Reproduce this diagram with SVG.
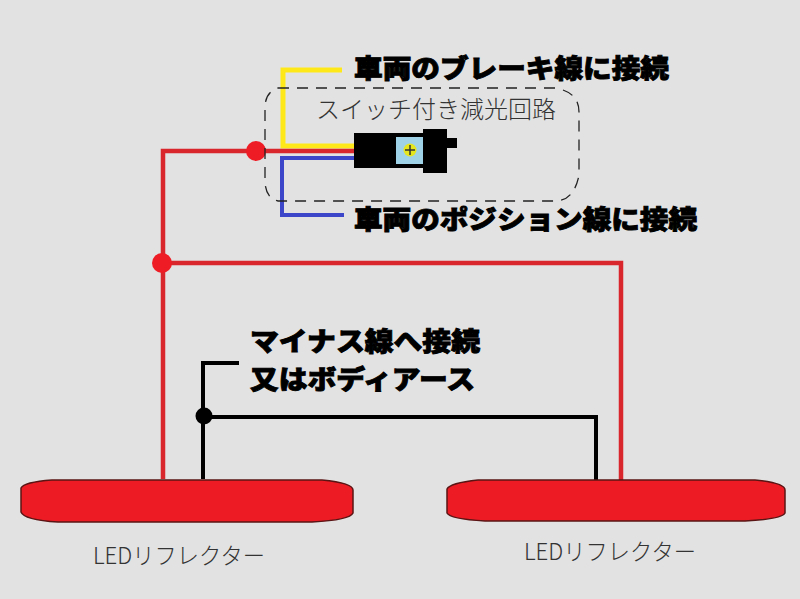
<svg xmlns="http://www.w3.org/2000/svg" width="800" height="599" viewBox="0 0 800 599">
<style>
.wire{fill:none;stroke-linejoin:miter}
.bold{font-family:"Noto Sans CJK JP",sans-serif;font-weight:900;font-size:26px;fill:#000;stroke:#000;stroke-width:.9}
.thin{font-family:"Noto Sans CJK JP",sans-serif;font-weight:300;fill:#333}
.refl{fill:#ed1c24;stroke:#5a1414;stroke-width:1.500}
</style>
<rect width="800" height="599" fill="#e2e2e2"/>
<g id="connectors">
<path class="wire" d="M342 70H283V146H356" stroke="#ffe81a" stroke-width="5"/>
<path class="wire" d="M344 215H282V158H356" stroke="#3c46c8" stroke-width="4"/>
<path class="wire" d="M356 151H163V479" stroke="#d9262c" stroke-width="4.500"/>
<path class="wire" d="M163 263H621V481" stroke="#d9262c" stroke-width="4.500"/>
<path class="wire" d="M239 363H203V479" stroke="#000" stroke-width="4"/>
<path class="wire" d="M204 417H596V480" stroke="#000" stroke-width="4"/>
<circle cx="256" cy="151" r="10" fill="#ee1c25"/>
<circle cx="162" cy="263" r="10" fill="#ee1c25"/>
<circle cx="204" cy="416" r="8.500" fill="#000"/>
</g>
<g id="switch-box">
<path d="M278 88H555Q579 92 579 112V175Q574 201 555 201H278Q265 198 265 180V108Q265 92 278 88Z" fill="none" stroke="#222" stroke-width="1.300" stroke-dasharray="11 8"/>
<text class="thin" x="436" y="118" font-size="24" text-anchor="middle" textLength="240" lengthAdjust="spacingAndGlyphs">スイッチ付き減光回路</text>
</g>
<g id="switch">
<path d="M354 133H423V129H447V138H457V148H447V173H423V168H354Z" fill="#000"/>
<rect x="396" y="137" width="27" height="27" fill="#9fd2e6"/>
<circle cx="410" cy="150" r="6.500" fill="#e6e61e"/>
<path d="M405 150H415M410 145V155" stroke="#333" stroke-width="1.500"/>
</g>
<g id="label-brake"><text class="bold" x="354" y="78" textLength="315" lengthAdjust="spacingAndGlyphs">車両のブレーキ線に接続</text></g>
<g id="label-position"><text class="bold" x="354" y="229" textLength="343" lengthAdjust="spacingAndGlyphs">車両のポジション線に接続</text></g>
<g id="label-ground">
<text class="bold" x="250" y="351" textLength="230" lengthAdjust="spacingAndGlyphs">マイナス線へ接続</text>
<text class="bold" x="250" y="389" textLength="225" lengthAdjust="spacingAndGlyphs">又はボディアース</text>
</g>
<g id="reflector-left">
<path class="refl" d="M52 480H322Q353 483 353 490V513Q350 520 312 522H58Q24 520 21 512V488Q24 482 52 480Z"/>
<text class="thin" x="93" y="564" font-size="23" textLength="172" lengthAdjust="spacingAndGlyphs">LEDリフレクター</text>
</g>
<g id="reflector-right">
<path class="refl" d="M478 480H755Q785 483 785 490V513Q782 519 745 521H485Q450 519 447 513V489Q450 483 478 480Z"/>
<text class="thin" x="524" y="560" font-size="23" textLength="172" lengthAdjust="spacingAndGlyphs">LEDリフレクター</text>
</g>
</svg>
